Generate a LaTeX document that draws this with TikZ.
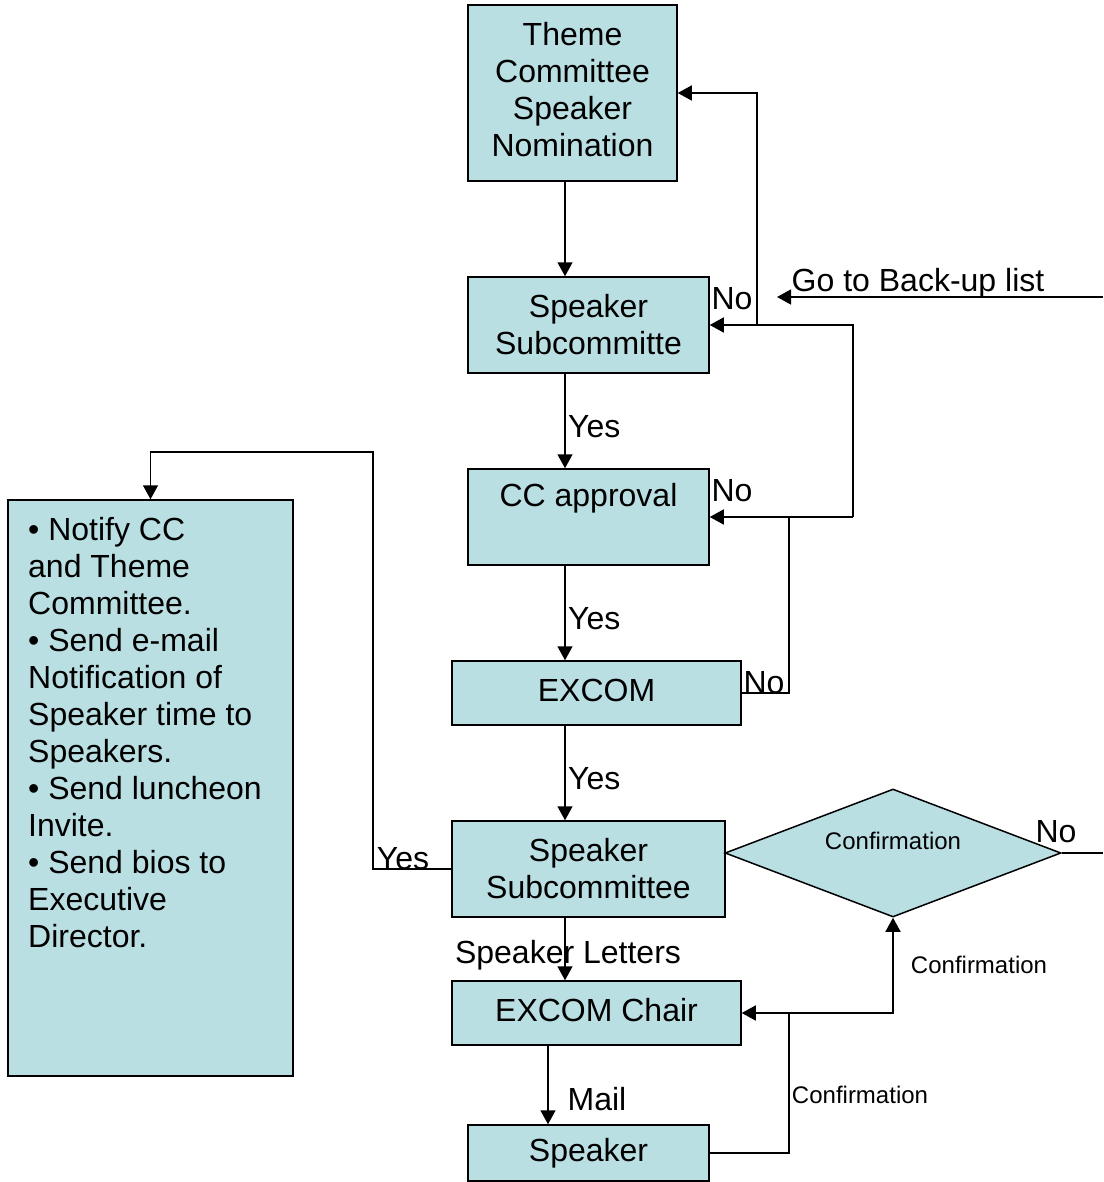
\documentclass[tikz,border=0pt]{standalone}
\usepackage{fontspec}
\setmainfont{Liberation Sans}
\usetikzlibrary{shapes.geometric,arrows.meta,calc}
\definecolor{boxfill}{RGB}{186,223,227}
\begin{document}
\begin{tikzpicture}[x=1pt,y=-1pt,
  box/.style={draw=black,line width=1.5pt,fill=boxfill,inner sep=0pt,font=\fontsize{32}{37}\selectfont,align=center},
  lbl/.style={inner sep=0pt,font=\fontsize{32}{37}\selectfont},
  slbl/.style={inner sep=0pt,font=\fontsize{24}{28}\selectfont},
  conn/.style={line width=1.5pt},
  arr/.style={conn,-{Triangle[length=14pt,width=15pt]}}]
\useasboundingbox (0,0) rectangle (1103,1182);
% nodes
\node[box,minimum width=209pt,minimum height=176pt] (theme) at (572.5,93) {};
\node[lbl,align=center] (themetext) at (572.5,90) {Theme\\Committee\\Speaker\\Nomination};
\node[box,minimum width=241pt,minimum height=96pt] (ss1) at (588.5,325) {Speaker\\Subcommitte};
\node[box,minimum width=241pt,minimum height=96pt] (cc) at (588.5,517) {};
\node[lbl] (cctext) at (588.5,498) {CC approval};
\node[box,minimum width=289pt,minimum height=64pt] (excom) at (596.5,693) {};
\node[lbl] (excomtext) at (596.5,690) {EXCOM};
\node[box,minimum width=273pt,minimum height=96pt] (ss2) at (588.5,869) {Speaker\\Subcommittee};
\node[box,shape=diamond,minimum width=336pt,minimum height=128pt] (conf) at (893,853) {};
\node[slbl] (conftext) at (893,841) {Confirmation};
\node[box,minimum width=289pt,minimum height=64pt] (chair) at (596.5,1013) {};
\node[lbl] (chairtext) at (596.5,1010) {EXCOM Chair};
\node[box,minimum width=241pt,minimum height=56pt] (spk) at (588.5,1153) {Speaker};
\node[box,minimum width=285pt,minimum height=576pt] (notes) at (150.5,788) {};
\node[lbl,anchor=north west,align=left] (notestext) at (28,517) {• Notify CC\\and Theme\\Committee.\\• Send e-mail\\Notification of\\Speaker time to\\Speakers.\\• Send luncheon\\Invite.\\• Send bios to\\Executive\\Director.};
% helper coordinates
\coordinate (xa) at (565,0);
\coordinate (xb) at (757,0);
\coordinate (xc) at (853,0);
\coordinate (xd) at (789,0);
\coordinate (xe) at (548,0);
\coordinate (xf) at (373,0);
\coordinate (yt) at (0,452);
\coordinate (edge1) at (1103,297);
\coordinate (bk) at (777,297);
\coordinate (edge2) at (1103,853);
% main flow
\draw[arr] (theme.south -| xa) -- (ss1.north -| xa);
\draw[arr] (ss1.south -| xa) -- (cc.north -| xa);
\draw[arr] (cc.south -| xa) -- (excom.north -| xa);
\draw[arr] (excom.south -| xa) -- (ss2.north -| xa);
\draw[arr] (ss2.south -| xa) -- (chair.north -| xa);
\draw[arr] (chair.south -| xe) -- (spk.north -| xe);
% No loops
\draw[arr] (ss1.east -| xb) |- (theme.east);
\draw[arr] (cc.east -| xc) |- (ss1.east);
\draw[conn] (cc.east -| xd) -- (cc.east -| xc);
\draw[arr] (excom.east) -| (cc.east -| xd) -- (cc.east);
\draw[arr] (edge1) -- (bk);
\draw[conn] (conf.east) -- (edge2);
% confirmation loops
\draw[arr] (spk.east) -| (chair.east -| xd) -- (chair.east);
\draw[arr] (chair.east -| xd) -| (conf.south);
% yes to notes
\draw[arr] (ss2.west) -| (xf |- yt) -| (notes.north);
% labels
\node[lbl,anchor=west] (y1) at (568,427) {Yes};
\node[lbl,anchor=west] (y2) at (568,619) {Yes};
\node[lbl,anchor=west] (y3) at (568,779) {Yes};
\node[lbl] (y4) at (403,859) {Yes};
\node[lbl] (n1) at (732,299) {No};
\node[lbl] (n2) at (732,491) {No};
\node[lbl] (n3) at (764,683) {No};
\node[lbl] (n4) at (1056,832) {No};
\node[lbl] (back) at (918,283) {Go to Back-up list};
\node[lbl] (letters) at (568,955) {Speaker Letters};
\node[lbl] (mail) at (597,1099) {Mail};
\node[slbl] (c1) at (979,965) {Confirmation};
\node[slbl] (c2) at (860,1095) {Confirmation};
\end{tikzpicture}
\end{document}
